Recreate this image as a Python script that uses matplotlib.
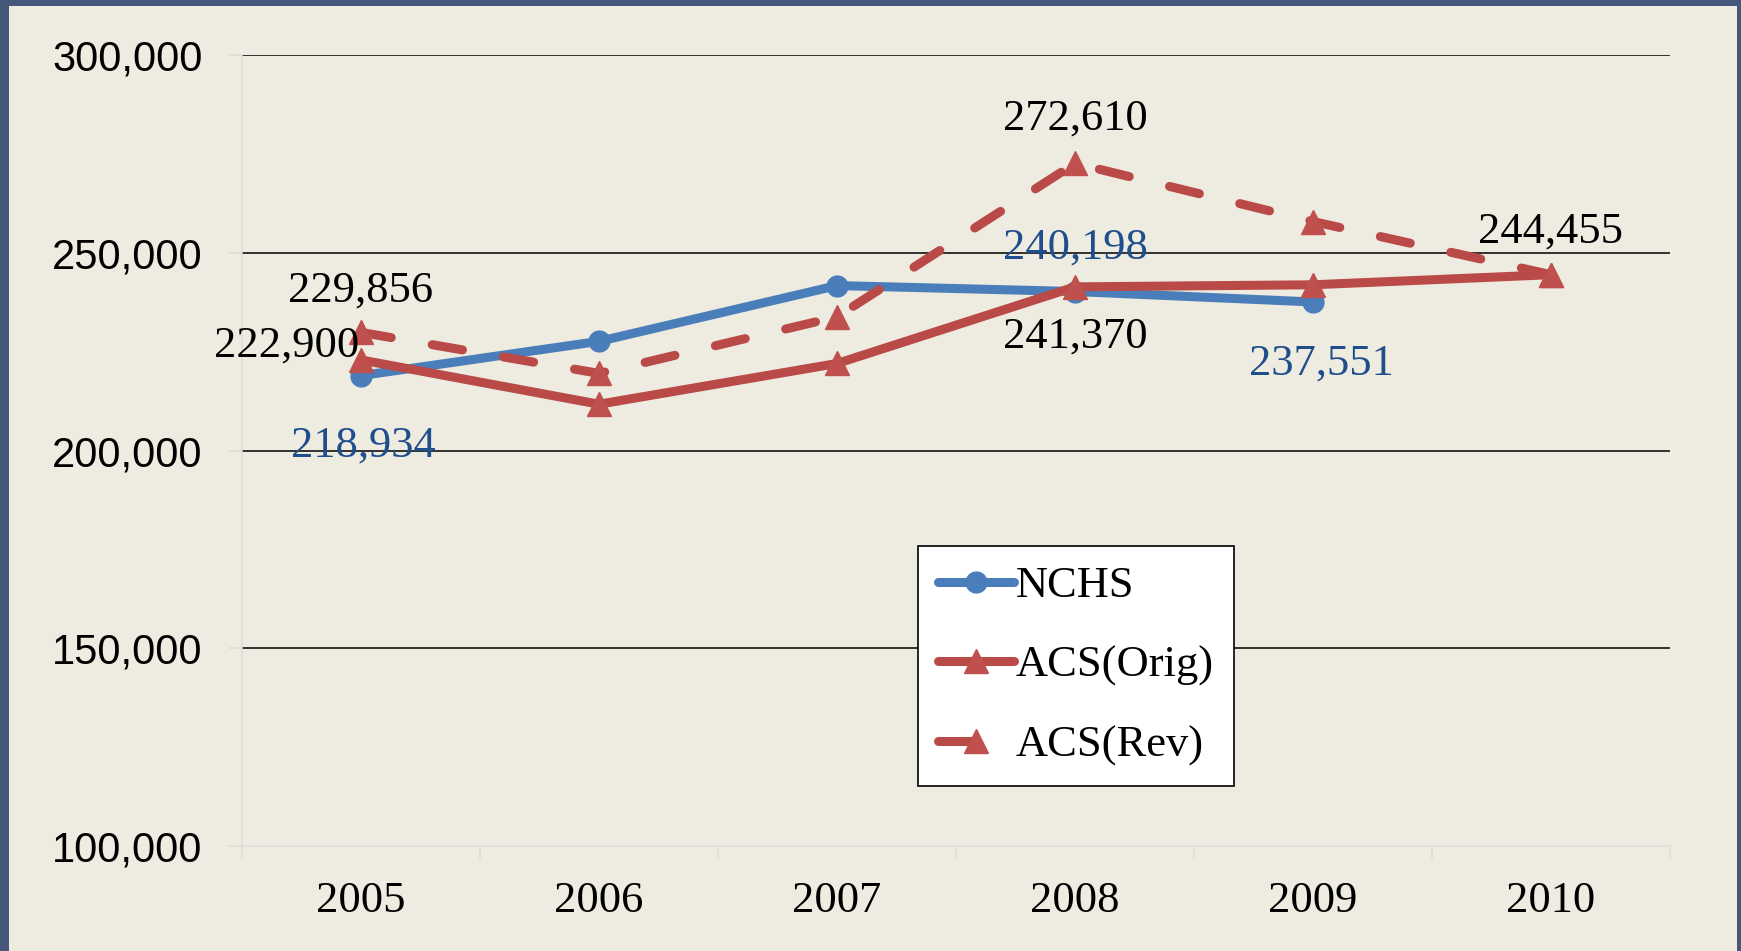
import matplotlib
matplotlib.use("Agg")
import matplotlib.pyplot as plt
from matplotlib.patches import Rectangle
from matplotlib.ticker import FuncFormatter, FixedLocator

# Data
years = ['2005', '2006', '2007', '2008', '2009', '2010']
nchs = [218934, 227600, 241700, 240198, 237551]
acs_orig = [222900, 211700, 222000, 241370, 241900, 244455]
acs_rev = [229856, 219500, 233800, 272610, 257900, 244455]

blue = '#4a7ebb'
red_line = '#b94a47'
red_mark = '#c0504d'
label_blue = '#1f4e8c'
serif = 'Liberation Serif'

W, H = 1741, 951
fig = plt.figure(figsize=(W / 100, H / 100), dpi=100)
fig.patch.set_facecolor('#46577b')
fig.patches.append(Rectangle((9 / W, 0), (1737 - 9) / W, (H - 6) / H,
                             transform=fig.transFigure, facecolor='#eeebe0',
                             edgecolor='none', zorder=-10))

ax = fig.add_axes([242 / W, 1 - 846 / H, (1670 - 242) / W, (846 - 55) / H])
ax.set_facecolor('none')

x = list(range(len(years)))

ax.plot(x[:len(nchs)], nchs, color=blue, lw=6.5, marker='o', ms=15,
        mfc=blue, mec=blue, solid_capstyle='round', label='NCHS', zorder=3)
ax.plot(x, acs_orig, color=red_line, lw=6.5, marker='^', ms=17,
        mfc=red_mark, mec=red_mark, solid_capstyle='round', label='ACS(Orig)', zorder=4)
rev, = ax.plot(x, acs_rev, color=red_line, lw=6.5, marker='^', ms=17,
               mfc=red_mark, mec=red_mark, ls='--', dash_capstyle='round',
               label='ACS(Rev)', zorder=5)
rev.set_dashes((3.4, 4.6))

ax.set_xlim(-0.5, 5.5)
ax.set_ylim(100000, 300000)

yticks = [100000, 150000, 200000, 250000, 300000]
ax.set_yticks(yticks)
for yv in yticks[1:]:
    ax.axhline(yv, color='black', lw=1.1, zorder=1)
ax.yaxis.set_major_formatter(FuncFormatter(lambda v, p: f'{int(v):,}'))
for t in ax.get_yticklabels():
    t.set_fontfamily('Liberation Sans')
ax.tick_params(axis='y', labelsize=30, length=9.4, color='#dcdcdc', width=1.1, pad=19)

ax.set_xticks(x)
ax.set_xticklabels(years, fontfamily=serif, fontsize=32)
ax.tick_params(axis='x', length=0, pad=25)
ax.xaxis.set_minor_locator(FixedLocator([i - 0.5 for i in range(len(years) + 1)]))
ax.tick_params(axis='x', which='minor', length=9.4, color='#dcdcdc', width=1.1)

for s in ['top', 'right']:
    ax.spines[s].set_visible(False)
for s in ['left', 'bottom']:
    ax.spines[s].set_color('#dcdcdc')
    ax.spines[s].set_linewidth(1.1)

# Data labels: (x index, value, text, dx pt, dy pt, ha, color)
labels = [
    (0, acs_rev[0], '229,856', 0, 30, 'center', 'black'),
    (0, acs_orig[0], '222,900', -1, 10.5, 'right', 'black'),
    (0, nchs[0], '218,934', 1.5, -50.5, 'center', label_blue),
    (3, nchs[3], '240,198', 0, 31.5, 'center', label_blue),
    (3, acs_orig[3], '241,370', 0, -36, 'center', 'black'),
    (3, acs_rev[3], '272,610', 0, 32, 'center', 'black'),
    (4, nchs[4], '237,551', 6, -44, 'center', label_blue),
    (5, acs_orig[5], '244,455', 0, 31, 'center', 'black'),
]
for xi, val, txt, dx, dy, ha, col in labels:
    ax.annotate(txt, xy=(xi, val), xytext=(dx, dy), textcoords='offset points',
                ha=ha, va='center', fontsize=32, fontfamily=serif,
                color=col, zorder=6)

leg = ax.legend(loc='upper left', bbox_to_anchor=(918 / W, 1 - 546 / H),
                bbox_transform=fig.transFigure, prop={'family': serif, 'size': 32},
                handlelength=1.7, handletextpad=0.05, labelspacing=0.89,
                borderpad=0.45, borderaxespad=0, numpoints=1, frameon=True,
                fancybox=False, framealpha=1)
leg.get_frame().set_edgecolor('black')
leg.get_frame().set_linewidth(1.2)
leg.get_frame().set_facecolor('white')
leg.get_lines()[2].set_dashes((4.2, 10))

fig.savefig('out.png', dpi=100)
